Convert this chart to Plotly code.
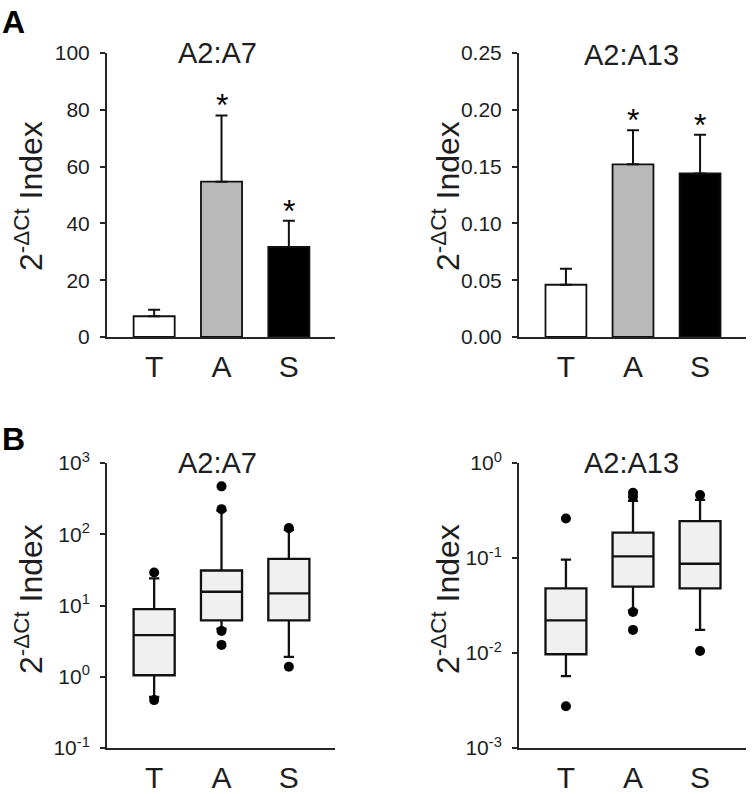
import plotly.graph_objects as go

# ---------------- data ----------------
categories = ["T", "A", "S"]

# Panel A: bar means and upper error (SEM)
a7_mean = [7.3, 54.7, 31.7]
a7_err = [2.3, 23.3, 9.2]
a13_mean = [0.046, 0.152, 0.144]
a13_err = [0.014, 0.030, 0.034]
sig_flags = [False, True, True]

# Panel B: box statistics (A2:A7)
b7_lower = [0.52, 4.7, 1.9]
b7_q1 = [1.05, 6.2, 6.2]
b7_median = [3.85, 15.6, 14.8]
b7_q3 = [8.9, 31.0, 45.0]
b7_upper = [24.0, 215.0, 115.0]
b7_out_x = ["T", "T", "A", "A", "A", "A", "S", "S"]
b7_out_y = [29.0, 0.47, 470.0, 225.0, 4.4, 2.8, 122.0, 1.38]

# Panel B: box statistics (A2:A13)
b13_lower = [0.0057, 0.028, 0.0175]
b13_q1 = [0.0097, 0.050, 0.048]
b13_median = [0.022, 0.104, 0.087]
b13_q3 = [0.048, 0.185, 0.244]
b13_upper = [0.096, 0.40, 0.41]
b13_out_x = ["T", "T", "A", "A", "A", "A", "S", "S"]
b13_out_y = [0.26, 0.00275, 0.485, 0.44, 0.027, 0.0175, 0.46, 0.0105]

bar_colors = ["#ffffff", "#b9b9b9", "#000000"]

log7_ticks = [0.1, 1, 10, 100, 1000]
log7_text = ["10<sup>-1</sup>", "10<sup>0</sup>", "10<sup>1</sup>", "10<sup>2</sup>", "10<sup>3</sup>"]
log13_ticks = [0.001, 0.01, 0.1, 1]
log13_text = ["10<sup>-3</sup>", "10<sup>-2</sup>", "10<sup>-1</sup>", "10<sup>0</sup>"]

# ---------------- figure ----------------
W, H = 753, 794
FONT = "Liberation Sans, Arial, Helvetica, sans-serif"
TXT = "#1e1e1e"
AX = "#262626"

fig = go.Figure()

def bar_trace(means, errs, xa, ya):
    return go.Bar(
        x=categories, y=means, width=0.61,
        marker=dict(color=bar_colors, line=dict(color="#111111", width=1.8)),
        error_y=dict(type="data", array=errs, arrayminus=[0] * len(errs),
                     symmetric=False, thickness=2, width=6, color="#111111"),
        xaxis=xa, yaxis=ya, showlegend=False,
    )

fig.add_trace(bar_trace(a7_mean, a7_err, "x", "y"))
fig.add_trace(bar_trace(a13_mean, a13_err, "x2", "y2"))

def box_trace(lf, q1, med, q3, uf, xa, ya):
    return go.Box(
        x=categories, lowerfence=lf, q1=q1, median=med, q3=q3, upperfence=uf,
        width=0.61, whiskerwidth=0.25, boxpoints=False,
        fillcolor="#f0f0f0", line=dict(color="#111111", width=2.3),
        xaxis=xa, yaxis=ya, showlegend=False,
    )

fig.add_trace(box_trace(b7_lower, b7_q1, b7_median, b7_q3, b7_upper, "x3", "y3"))
fig.add_trace(box_trace(b13_lower, b13_q1, b13_median, b13_q3, b13_upper, "x4", "y4"))

fig.add_trace(go.Scatter(x=b7_out_x, y=b7_out_y, mode="markers",
                         marker=dict(color="#000000", size=10),
                         xaxis="x3", yaxis="y3", showlegend=False))
fig.add_trace(go.Scatter(x=b13_out_x, y=b13_out_y, mode="markers",
                         marker=dict(color="#000000", size=10),
                         xaxis="x4", yaxis="y4", showlegend=False))

# axis domains (paper fractions)
xl = [107 / W, 335 / W]
xr = [519 / W, 746 / W]
ytop = [1 - 337 / H, 1 - 53 / H]
ybot = [1 - 748 / H, 1 - 463 / H]
xrange_ = [-0.7, 2.685]

def xaxis(domain, anchor):
    return dict(domain=domain, anchor=anchor, range=xrange_, type="category",
                categoryorder="array", categoryarray=categories,
                showline=True, linecolor=AX, linewidth=2, ticks="",
                showgrid=False, zeroline=False, ticklabelstandoff=2,
                automargin=False,
                tickfont=dict(size=30, color=TXT, family=FONT), fixedrange=True)

def yaxis(domain, anchor, **kw):
    d = dict(domain=domain, anchor=anchor, showline=True, linecolor=AX,
             linewidth=2, ticks="outside", ticklen=5, tickwidth=2, tickcolor=AX,
             showgrid=False, zeroline=False, ticklabelstandoff=6, automargin=False,
             tickfont=dict(size=21, color=TXT, family=FONT), fixedrange=True)
    d.update(kw)
    return d

fig.update_layout(
    width=W, height=H,
    autosize=False,
    margin=dict(l=0, r=0, t=0, b=0, pad=0),
    paper_bgcolor="white", plot_bgcolor="white",
    font=dict(family=FONT, color=TXT),
    xaxis=xaxis(xl, "y"),
    yaxis=yaxis(ytop, "x", range=[0, 100], tickvals=[0, 20, 40, 60, 80, 100]),
    xaxis2=xaxis(xr, "y2"),
    yaxis2=yaxis(ytop, "x2", range=[0, 0.25],
                 tickvals=[0, 0.05, 0.10, 0.15, 0.20, 0.25], tickformat=".2f"),
    xaxis3=xaxis(xl, "y3"),
    yaxis3=yaxis(ybot, "x3", type="log", range=[-1, 3],
                 tickvals=log7_ticks, ticktext=log7_text),
    xaxis4=xaxis(xr, "y4"),
    yaxis4=yaxis(ybot, "x4", type="log", range=[-3, 0],
                 tickvals=log13_ticks, ticktext=log13_text),
    showlegend=False,
)

ann = []
# panel letters
ann.append(dict(text="<b>A</b>", x=0 / W, y=1 - 2 / H, xref="paper", yref="paper",
                xanchor="left", yanchor="top", showarrow=False,
                font=dict(size=32, color="#000000", family=FONT)))
ann.append(dict(text="<b>B</b>", x=0 / W, y=1 - 419 / H, xref="paper", yref="paper",
                xanchor="left", yanchor="top", showarrow=False,
                font=dict(size=32, color="#000000", family=FONT)))
# panel titles
for t, cx, cy in [("A2:A7", 217, 53), ("A2:A13", 631, 55),
                  ("A2:A7", 217, 463), ("A2:A13", 631, 463)]:
    ann.append(dict(text=t, x=cx / W, y=1 - cy / H, xref="paper", yref="paper",
                    xanchor="center", yanchor="middle", showarrow=False,
                    font=dict(size=29, color=TXT, family=FONT)))
# y axis titles
for cx, cy in [(29, 196), (446, 196), (29, 599), (446, 599)]:
    ann.append(dict(text="2<sup>-ΔCt</sup> Index", x=cx / W, y=1 - cy / H,
                    xref="paper", yref="paper", xanchor="center", yanchor="middle",
                    textangle=-90, showarrow=False,
                    font=dict(size=32, color=TXT, family=FONT)))
# significance asterisks
for means, errs, xr_, yr_ in [(a7_mean, a7_err, "x", "y"), (a13_mean, a13_err, "x2", "y2")]:
    for c, m, e, s in zip(categories, means, errs, sig_flags):
        if s:
            ann.append(dict(text="*", x=c, y=m + e, xref=xr_, yref=yr_,
                            xanchor="center", yanchor="bottom", yshift=-10,
                            showarrow=False,
                            font=dict(size=32, color="#000000", family=FONT)))

fig.update_layout(annotations=ann)

fig.write_html(
    "out.html",
    config={"displayModeBar": False},
    post_script="document.body.style.margin='0';document.body.style.overflow='hidden';",
)
